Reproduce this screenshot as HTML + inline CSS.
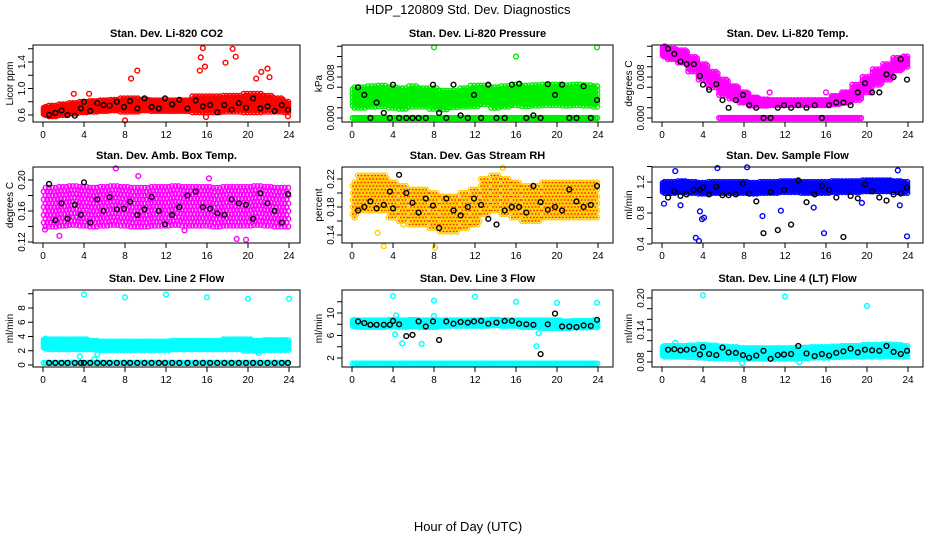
<!DOCTYPE html>
<html><head><meta charset="utf-8"><style>
html,body{margin:0;padding:0;background:#fff;}
svg{display:block;font-family:"Liberation Sans",sans-serif;}
</style></head><body>
<svg id="chart" width="936" height="540" viewBox="0 0 936 540" xmlns="http://www.w3.org/2000/svg">
<text x="468" y="14" font-size="13" text-anchor="middle">HDP_120809  Std. Dev. Diagnostics</text>
<text x="468" y="531" font-size="13" text-anchor="middle">Hour of Day (UTC)</text>
</svg>
<script>
// hourly centers (0..24) and half-spreads of coloured clouds
const co2Center=[0.66,0.66,0.68,0.70,0.72,0.73,0.74,0.75,0.75,0.75,0.75,0.74,0.74,0.74,0.74,0.76,0.76,0.76,0.77,0.77,0.78,0.78,0.77,0.75,0.72];
const co2Spread=[0.06,0.08,0.08,0.08,0.08,0.08,0.08,0.08,0.10,0.10,0.08,0.08,0.08,0.08,0.08,0.12,0.12,0.12,0.12,0.12,0.14,0.14,0.12,0.10,0.08];
const co2OutX=[8.6,9.2,15.3,15.4,15.6,15.8,17.8,18.5,18.8,21.3,21.9,22.1,20.8,8.0,3.0,4.5,15.9,23.9];
const co2OutY=[1.15,1.27,1.27,1.47,1.61,1.33,1.39,1.60,1.48,1.25,1.30,1.17,1.15,0.52,0.92,0.92,0.57,0.58];
const co2Black=[0.60,0.63,0.67,0.60,0.59,0.70,0.80,0.66,0.78,0.75,0.74,0.80,0.72,0.81,0.70,0.85,0.72,0.70,0.85,0.76,0.83,0.70,0.82,0.73,0.75,0.64,0.75,0.68,0.78,0.71,0.85,0.70,0.73,0.66,0.75,0.68];

const presCenter=[0.0040,0.0040,0.0042,0.0043,0.0040,0.0038,0.0042,0.0040,0.0038,0.0035,0.0037,0.0040,0.0043,0.0045,0.0040,0.0042,0.0045,0.0043,0.0044,0.0045,0.0045,0.0044,0.0045,0.0044,0.0042];
const presSpread=[0.0020,0.0020,0.0020,0.0020,0.0020,0.0020,0.0020,0.0018,0.0020,0.0018,0.0016,0.0018,0.0020,0.0018,0.0020,0.0020,0.0020,0.0020,0.0020,0.0020,0.0020,0.0020,0.0020,0.0020,0.0020];
const presFloor=[0,0,0,0,0,0,0,0,0,0,0,0,0,0,0,0,0,0,0,0,0,0,0,0,0];
const presOutX=[8.0,16.0,23.9];
const presOutY=[0.0138,0.0120,0.0138];
const presBlack=[0.0060,0.0045,0.0,0.0030,0.0010,0.0,0.0065,0.0,0.0,0.0,0.0,0.0,0.0065,0.0010,0.0,0.0065,0.0005,0.0,0.0045,0.0,0.0065,0.0,0.0,0.0065,0.0067,0.0,0.0005,0.0,0.0066,0.0045,0.0065,0.0,0.0,0.0062,0.0,0.0035];

const tempCenter=[0.0130,0.0125,0.0120,0.0105,0.0090,0.0075,0.0060,0.0050,0.0040,0.0032,0.0030,0.0030,0.0030,0.0030,0.0030,0.0030,0.0030,0.0035,0.0040,0.0050,0.0065,0.0080,0.0090,0.0105,0.0110];
const tempSpread=[0.0010,0.0010,0.0012,0.0014,0.0015,0.0015,0.0015,0.0012,0.0010,0.0008,0.0006,0.0005,0.0005,0.0005,0.0005,0.0005,0.0005,0.0008,0.0010,0.0015,0.0015,0.0015,0.0015,0.0012,0.0010];
const tempFloor=[null,null,null,null,null,null,0,0,0,0,0,0,0,0,0,0,0,0,0,0,null,null,null,null,null];
const tempOutX=[10.5,16.0,5.0];
const tempOutY=[0.0050,0.0050,0.0075];
const tempBlack=[0.0135,0.0125,0.0110,0.0105,0.0105,0.0082,0.0065,0.0055,0.0066,0.0035,0.0020,0.0035,0.0045,0.0025,0.0020,0.0,0.0,0.0020,0.0025,0.0020,0.0025,0.0020,0.0025,0.0,0.0025,0.0030,0.0030,0.0025,0.0050,0.0068,0.0050,0.0050,0.0085,0.0080,0.0115,0.0075];

const ambCenter=[0.165,0.165,0.166,0.167,0.166,0.165,0.166,0.167,0.166,0.165,0.165,0.166,0.166,0.167,0.166,0.166,0.166,0.165,0.166,0.166,0.166,0.167,0.166,0.165,0.165];
const ambSpread=[0.025,0.025,0.025,0.025,0.025,0.025,0.025,0.025,0.025,0.025,0.025,0.025,0.025,0.025,0.025,0.025,0.025,0.025,0.025,0.025,0.025,0.025,0.025,0.025,0.025];
const ambOutX=[7.1,9.3,0.2,1.6,19.8,18.9,16.2,13.8];
const ambOutY=[0.215,0.205,0.136,0.128,0.123,0.124,0.202,0.135];
const ambBlack=[0.195,0.148,0.170,0.150,0.168,0.155,0.197,0.145,0.175,0.160,0.178,0.162,0.163,0.172,0.155,0.162,0.178,0.160,0.143,0.155,0.165,0.180,0.185,0.165,0.163,0.157,0.155,0.175,0.170,0.168,0.150,0.183,0.170,0.160,0.145,0.182];

const rhCenter=[0.190,0.200,0.200,0.200,0.190,0.185,0.180,0.180,0.175,0.170,0.170,0.175,0.180,0.195,0.200,0.195,0.190,0.185,0.185,0.190,0.190,0.190,0.190,0.190,0.190];
const rhSpread=[0.025,0.025,0.025,0.025,0.025,0.025,0.025,0.025,0.025,0.025,0.025,0.025,0.025,0.025,0.025,0.025,0.025,0.025,0.025,0.025,0.025,0.025,0.025,0.025,0.025];
const rhOutX=[3.1,8.1,14.7,2.5,5.0];
const rhOutY=[0.124,0.122,0.236,0.143,0.155];
const rhBlack=[0.175,0.180,0.188,0.178,0.183,0.202,0.178,0.226,0.200,0.186,0.172,0.192,0.182,0.150,0.192,0.175,0.168,0.180,0.192,0.183,0.163,0.155,0.175,0.180,0.180,0.172,0.210,0.187,0.176,0.180,0.175,0.205,0.188,0.180,0.183,0.210];

const flowCenter=[1.13,1.13,1.14,1.13,1.12,1.13,1.13,1.13,1.13,1.12,1.13,1.13,1.14,1.14,1.13,1.13,1.13,1.14,1.14,1.14,1.15,1.15,1.15,1.14,1.13];
const flowSpread=[0.07,0.07,0.07,0.07,0.07,0.07,0.07,0.07,0.07,0.07,0.07,0.07,0.07,0.07,0.07,0.07,0.07,0.07,0.07,0.07,0.07,0.07,0.07,0.07,0.07];
const flowOutX=[3.3,3.6,3.9,3.7,4.1,9.8,11.6,15.8,23.9,8.3,5.4,1.3,23.0,0.2,1.8,23.2,14.8,19.5];
const flowOutY=[0.48,0.44,0.72,0.82,0.74,0.76,0.83,0.54,0.50,1.39,1.38,1.34,1.35,0.92,0.90,0.90,0.87,0.93];
const flowBlack=[1.00,1.08,1.02,1.04,1.10,1.10,1.13,1.04,1.14,1.03,1.03,1.04,1.18,1.05,0.95,0.54,1.07,0.58,1.10,0.65,1.22,0.94,1.04,1.15,1.10,1.00,0.49,1.02,0.99,1.17,1.08,1.00,0.96,1.04,1.05,1.13];

const l2Center=[3.0,2.9,2.9,2.9,2.9,2.8,2.7,2.7,2.7,2.7,2.7,2.7,2.7,2.8,2.8,2.8,2.8,2.8,2.9,2.9,2.8,2.7,2.8,2.8,2.8];
const l2Spread=[0.7,0.7,0.7,0.7,0.7,0.6,0.6,0.6,0.6,0.6,0.6,0.6,0.6,0.6,0.6,0.6,0.6,0.6,0.7,0.7,0.8,0.7,0.7,0.7,0.7];
const l2Floor=[0.3,0.3,0.3,0.3,0.3,0.3,0.3,0.3,0.3,0.3,0.3,0.3,0.3,0.3,0.3,0.3,0.3,0.3,0.3,0.3,0.3,0.3,0.3,0.3,0.3];
const l2OutX=[4.0,8.0,12.0,16.0,20.0,24.0,3.6,5.0,5.3,21.0];
const l2OutY=[9.9,9.5,9.9,9.5,9.3,9.3,1.2,0.8,1.5,1.7];
const l2Black=[0.3,0.3,0.3,0.3,0.3,0.3,0.3,0.3,0.3,0.3,0.3,0.3,0.3,0.3,0.3,0.3,0.3,0.3,0.3,0.3,0.3,0.3,0.3,0.3,0.3,0.3,0.3,0.3,0.3,0.3,0.3,0.3,0.3,0.3,0.3,0.3];

const l3Center=[8.2,8.1,8.1,8.1,8.2,8.1,8.2,8.1,8.1,8.2,8.2,8.2,8.2,8.2,8.3,8.2,8.2,8.1,8.1,8.0,8.0,7.9,8.0,8.0,8.1];
const l3Spread=[0.6,0.6,0.6,0.6,0.6,0.6,0.6,0.6,0.6,0.5,0.5,0.5,0.5,0.5,0.5,0.5,0.5,0.6,0.6,0.7,0.7,0.6,0.6,0.6,0.6];
const l3Floor=[1,1,1,1,1,1,1,1,1,1,1,1,1,1,1,1,1,1,1,1,1,1,1,1,1];
const l3OutX=[4.0,8.0,12.0,16.0,20.0,23.9,4.2,4.9,6.8,8.0,18.0,18.2,4.3];
const l3OutY=[13.0,12.2,12.9,12.0,11.8,11.8,6.2,4.6,4.5,9.5,4.1,6.4,9.6];
const l3Black=[8.5,8.2,7.9,7.9,7.9,7.9,8.6,8.0,5.9,6.1,8.5,7.6,8.5,5.2,8.5,8.1,8.4,8.3,8.5,8.6,8.1,8.3,8.6,8.6,8.1,8.0,7.9,2.7,8.0,9.9,7.6,7.6,7.5,7.8,7.7,8.8];

const l4Center=[0.100,0.100,0.100,0.100,0.100,0.099,0.098,0.097,0.096,0.096,0.096,0.096,0.096,0.096,0.097,0.098,0.098,0.099,0.100,0.100,0.101,0.101,0.102,0.101,0.100];
const l4Spread=[0.010,0.010,0.010,0.011,0.012,0.012,0.011,0.011,0.010,0.010,0.010,0.010,0.010,0.010,0.010,0.010,0.010,0.010,0.010,0.010,0.011,0.011,0.011,0.011,0.010];
const l4OutX=[4.0,12.0,20.0,7.8,13.4,1.3];
const l4OutY=[0.205,0.203,0.185,0.078,0.080,0.116];
const l4Black=[0.103,0.104,0.102,0.103,0.104,0.094,0.108,0.095,0.093,0.107,0.098,0.097,0.093,0.088,0.092,0.101,0.086,0.093,0.094,0.095,0.110,0.096,0.091,0.095,0.092,0.097,0.100,0.105,0.098,0.103,0.102,0.101,0.110,0.099,0.095,0.101];

const blackHours=[0.6,1.2,1.8,2.4,3.1,3.7,4.0,4.6,5.3,5.9,6.5,7.2,7.9,8.5,9.2,9.9,10.6,11.3,11.9,12.6,13.3,14.1,14.9,15.6,16.3,17.0,17.7,18.4,19.1,19.8,20.5,21.2,21.9,22.6,23.3,23.9];
const xTicks=[0,4,8,12,16,20,24];

const svg=document.getElementById('chart');
const NS='http://www.w3.org/2000/svg';
function mk(tag,attrs,parent){const e=document.createElementNS(NS,tag);for(const k in attrs)e.setAttribute(k,attrs[k]);(parent||svg).appendChild(e);return e;}

const cols=[33,342,652],colW=[267,271,271];
const rows=[[45,122],[167,243],[290,367]];
const panels=[
 {key:'co2',title:'Stan. Dev. Li-820 CO2',ylab:'Licor ppm',col:0,row:0,v:[0.6,1.4],p:[115,62],ticks:[0.6,0.8,1.0,1.2,1.4,1.6],labels:['0.6','1.0','1.4'],color:'#ff0000',c:co2Center,s:co2Spread,ox:co2OutX,oy:co2OutY,b:co2Black},
 {key:'pressure',title:'Stan. Dev. Li-820 Pressure',ylab:'kPa',col:1,row:0,v:[0,0.008],p:[118,77],ticks:[0,0.002,0.004,0.006,0.008,0.010,0.012,0.014],labels:['0.000','0.008'],color:'#00ee00',c:presCenter,s:presSpread,f:presFloor,ox:presOutX,oy:presOutY,b:presBlack},
 {key:'temp',title:'Stan. Dev. Li-820 Temp.',ylab:'degrees C',col:2,row:0,v:[0,0.008],p:[118,77],ticks:[0,0.002,0.004,0.006,0.008,0.010,0.012,0.014],labels:['0.000','0.008'],color:'#ff00ff',c:tempCenter,s:tempSpread,f:tempFloor,ox:tempOutX,oy:tempOutY,b:tempBlack},
 {key:'ambbox',title:'Stan. Dev. Amb. Box Temp.',ylab:'degrees C',col:0,row:1,v:[0.12,0.20],p:[242,180],ticks:[0.12,0.14,0.16,0.18,0.20],labels:['0.12','0.16','0.20'],color:'#ff00ff',c:ambCenter,s:ambSpread,ox:ambOutX,oy:ambOutY,b:ambBlack},
 {key:'rh',title:'Stan. Dev. Gas Stream RH',ylab:'percent',col:1,row:1,v:[0.14,0.22],p:[235,179],ticks:[0.14,0.16,0.18,0.20,0.22],labels:['0.14','0.18','0.22'],color:'#ffd000',dot:'#ff2000',c:rhCenter,s:rhSpread,ox:rhOutX,oy:rhOutY,b:rhBlack},
 {key:'sampleflow',title:'Stan. Dev. Sample Flow',ylab:'ml/min',col:2,row:1,v:[0.4,1.2],p:[244,182],ticks:[0.4,0.6,0.8,1.0,1.2,1.4],labels:['0.4','0.8','1.2'],color:'#0000ff',c:flowCenter,s:flowSpread,ox:flowOutX,oy:flowOutY,b:flowBlack},
 {key:'line2',title:'Stan. Dev. Line 2 Flow',ylab:'ml/min',col:0,row:2,v:[0,8],p:[365,308],ticks:[0,2,4,6,8,10],labels:['0','2','4','6','8'],color:'#00ffff',c:l2Center,s:l2Spread,f:l2Floor,ox:l2OutX,oy:l2OutY,b:l2Black},
 {key:'line3',title:'Stan. Dev. Line 3 Flow',ylab:'ml/min',col:1,row:2,v:[2,10],p:[358,313],ticks:[2,4,6,8,10,12],labels:['2','6','10'],color:'#00ffff',c:l3Center,s:l3Spread,f:l3Floor,ox:l3OutX,oy:l3OutY,b:l3Black},
 {key:'line4',title:'Stan. Dev. Line 4 (LT) Flow',ylab:'ml/min',col:2,row:2,v:[0.08,0.20],p:[362,298],ticks:[0.08,0.10,0.12,0.14,0.16,0.18,0.20],labels:['0.08','0.14','0.20'],color:'#00ffff',c:l4Center,s:l4Spread,ox:l4OutX,oy:l4OutY,b:l4Black}
];
const dxs=[-0.42,-0.25,-0.08,0.08,0.25,0.42];
const dysA=[-1,-0.6,-0.2,0.2,0.6,1],dysB=[-0.8,-0.4,0,0.4,0.8];
panels.forEach(P=>{
 const L=cols[P.col],W=colW[P.col],T=rows[P.row][0],B=rows[P.row][1];
 const xs=h=>L+10+h*246/24;
 const ys=v=>P.p[0]+(v-P.v[0])*(P.p[1]-P.p[0])/(P.v[1]-P.v[0]);
 const g=mk('g',{});
 
 
 const cx=L+W/2;
 const t=mk('text',{x:cx,y:T-8,'font-size':11,'font-weight':'bold','text-anchor':'middle'},g);t.textContent=P.title;
 
 
 const pts=mk('g',{fill:'none','stroke-width':1.4},g);
 
 
 function circ(h,v,col){if(v===null||v===undefined)return;mk('circle',{cx:xs(h).toFixed(1),cy:ys(v).toFixed(1),r:2.4,stroke:col},pts);}
 const cloud=[];
 for(let i=0;i<P.c.length;i++){dxs.forEach((dx,j)=>{const h=i+dx;if(h<0||h>24)return;(j%2?dysB:dysA).forEach(dy=>{cloud.push([h,P.c[i]+dy*P.s[i]]);});if(P.f&&P.f[i]!==null&&P.f[i]!==undefined)circ(h,P.f[i],P.color);});}
 cloud.forEach(q=>circ(q[0],q[1],P.color));
 for(let i=0;i<P.ox.length;i++)circ(P.ox[i],P.oy[i],P.color);
 if(P.dot){cloud.forEach(q=>{mk('circle',{cx:xs(q[0]).toFixed(1),cy:ys(q[1]).toFixed(1),r:0.9,fill:P.dot},pts);});}
 for(let i=0;i<blackHours.length;i++)circ(blackHours[i],P.b[i],'#000');
 const box=mk('rect',{x:L,y:T,width:W,height:B-T,fill:'none',stroke:'#000','stroke-width':1},g);
 
 
 xTicks.forEach(h=>{const x=xs(h);mk('line',{x1:x,x2:x,y1:B,y2:B+5,stroke:'#000'},g);
  const tl=mk('text',{x:x,y:B+16,'font-size':10,'text-anchor':'middle'},g);tl.textContent=h;
  
  });
 P.ticks.forEach(v=>{const y=ys(v);mk('line',{x1:L-5,x2:L,y1:y,y2:y,stroke:'#000'},g);});
 P.labels.forEach(s=>{const y=ys(parseFloat(s));const tl=mk('text',{x:0,y:0,'font-size':10,'text-anchor':'middle',transform:`translate(${L-8},${y}) rotate(-90)`},g);tl.textContent=s;
  
  });
 const yt=mk('text',{x:0,y:0,'font-size':10,'text-anchor':'middle',transform:`translate(${L-20},${(T+B)/2}) rotate(-90)`},g);yt.textContent=P.ylab;
 
 
});
</script>
</body></html>
